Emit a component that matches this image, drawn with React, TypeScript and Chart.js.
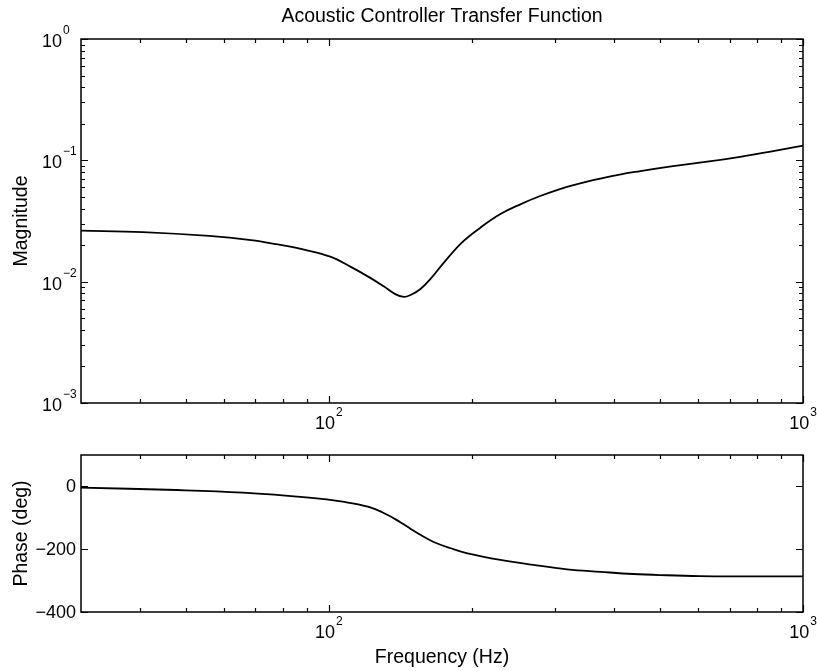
import { useEffect, useRef } from 'react';
import { Chart, registerables } from 'chart.js';

Chart.register(...registerables);

const FONT = "'Liberation Sans', Arial, Helvetica, sans-serif";

// Magnitude response |H(f)|
const magFreq = [30, 40.5, 55.9, 68.5, 77.3, 87.3, 101, 111, 122.5, 130.5, 138, 144, 149, 156, 165, 172, 190, 209, 230, 254, 279, 307, 328, 386, 454, 532, 628, 737, 865, 1000];
const magnitude = [0.0263, 0.0256, 0.0238, 0.022, 0.0204, 0.0186, 0.016, 0.0133, 0.0107, 0.00915, 0.0079, 0.00748, 0.0078, 0.0087, 0.0109, 0.0133, 0.0207, 0.028, 0.0361, 0.0436, 0.0508, 0.058, 0.0626, 0.0728, 0.0816, 0.0897, 0.0974, 0.107, 0.119, 0.132];

// Phase response in degrees
const phaseFreq = [30, 47.7, 65.8, 90.8, 106.9, 120.8, 133.1, 141.7, 148.8, 156.2, 166.3, 180.7, 196, 230, 270, 318, 374, 438, 517, 606, 711, 1000];
const phaseDeg = [-4, -11.5, -20, -36, -48.7, -64.6, -91, -115, -135.4, -155, -177, -197, -213, -234, -250, -264, -272, -279, -283, -285.5, -286.3, -286.3];

// Axis ticks
const freqMajor = [100, 1000];
const freqExp = ['2', '3'];
const freqMinor = [40, 50, 60, 70, 80, 90, 200, 300, 400, 500, 600, 700, 800, 900];
const magMajor = [0.001, 0.01, 0.1, 1];
const magExp = ['\u22123', '\u22122', '\u22121', '0'];
const magMinor = [
  0.002, 0.003, 0.004, 0.005, 0.006, 0.007, 0.008, 0.009,
  0.02, 0.03, 0.04, 0.05, 0.06, 0.07, 0.08, 0.09,
  0.2, 0.3, 0.4, 0.5, 0.6, 0.7, 0.8, 0.9,
];
const phaseMajor = [-400, -200, 0];
const phaseLabels = ['\u2212400', '\u2212200', '0'];

type FrameCfg = {
  yMajor: number[];
  yMinor: number[];
  yLabel: string;
  yTickText: string[];
  yPow: boolean;
  title?: string;
  xTitle?: string;
};

const MAJOR = 7;
const MINOR = 4;
const TICK_FONT = `18px ${FONT}`;
const EXP_FONT = `12px ${FONT}`;
const LABEL_FONT = `19.5px ${FONT}`;

function drawPow(ctx: CanvasRenderingContext2D, exp: string, cx: number, baseY: number) {
  ctx.font = TICK_FONT;
  const bw = ctx.measureText('10').width;
  ctx.font = EXP_FONT;
  const ew = ctx.measureText(exp).width;
  const start = cx - (bw + ew + 1) / 2;
  ctx.textAlign = 'left';
  ctx.textBaseline = 'alphabetic';
  ctx.font = TICK_FONT;
  ctx.fillText('10', start, baseY);
  ctx.font = EXP_FONT;
  ctx.fillText(exp, start + bw + 1, baseY - 13);
}

function framePlugin(cfg: FrameCfg) {
  return {
    id: 'axesFrame',
    afterDatasetsDraw(chart: any) {
      const ctx: CanvasRenderingContext2D = chart.ctx;
      const { left, right, top, bottom } = chart.chartArea;
      const xs = chart.scales.x;
      const ys = chart.scales.y;
      ctx.save();
      ctx.strokeStyle = '#000';
      ctx.lineWidth = 1.2;
      ctx.beginPath();
      const tickX = (v: number, len: number) => {
        const p = Math.round(xs.getPixelForValue(v)) + 0.5;
        ctx.moveTo(p, bottom);
        ctx.lineTo(p, bottom - len);
        ctx.moveTo(p, top);
        ctx.lineTo(p, top + len);
      };
      const tickY = (v: number, len: number) => {
        const p = Math.round(ys.getPixelForValue(v)) + 0.5;
        ctx.moveTo(left, p);
        ctx.lineTo(left + len, p);
        ctx.moveTo(right, p);
        ctx.lineTo(right - len, p);
      };
      freqMajor.forEach((v) => tickX(v, MAJOR));
      freqMinor.forEach((v) => tickX(v, MINOR));
      cfg.yMajor.forEach((v) => tickY(v, MAJOR));
      cfg.yMinor.forEach((v) => tickY(v, MINOR));
      ctx.stroke();
      ctx.lineWidth = 1.5;
      ctx.strokeRect(left, top, right - left, bottom - top);

      ctx.fillStyle = '#000';
      // x tick labels
      freqMajor.forEach((v, i) => {
        drawPow(ctx, freqExp[i], xs.getPixelForValue(v), bottom + 26);
      });
      // y tick labels
      cfg.yMajor.forEach((v, i) => {
        const p = ys.getPixelForValue(v);
        if (cfg.yPow) {
          ctx.font = TICK_FONT;
          ctx.textAlign = 'right';
          ctx.textBaseline = 'alphabetic';
          ctx.fillText('10', left - 19, p + 8);
          ctx.font = EXP_FONT;
          ctx.textAlign = 'left';
          ctx.fillText(cfg.yTickText[i], left - 18, p - 5);
        } else {
          ctx.font = TICK_FONT;
          ctx.textAlign = 'right';
          ctx.textBaseline = 'middle';
          ctx.fillText(cfg.yTickText[i], left - 5, p + 1);
        }
      });
      // y axis label
      ctx.save();
      ctx.translate(27, (top + bottom) / 2);
      ctx.rotate(-Math.PI / 2);
      ctx.font = LABEL_FONT;
      ctx.textAlign = 'center';
      ctx.textBaseline = 'alphabetic';
      ctx.fillText(cfg.yLabel, 0, 0);
      ctx.restore();
      // title
      if (cfg.title) {
        ctx.font = LABEL_FONT;
        ctx.textAlign = 'center';
        ctx.textBaseline = 'alphabetic';
        ctx.fillText(cfg.title, (left + right) / 2, top - 17);
      }
      // x axis label
      if (cfg.xTitle) {
        ctx.font = LABEL_FONT;
        ctx.textAlign = 'center';
        ctx.textBaseline = 'alphabetic';
        ctx.fillText(cfg.xTitle, (left + right) / 2, bottom + 51);
      }
      ctx.restore();
    },
  };
}

function lineDataset(xs: number[], ys: number[]) {
  return {
    data: xs.map((x, i) => ({ x, y: ys[i] })),
    borderColor: '#000',
    borderWidth: 1.8,
    pointRadius: 0,
    fill: false,
    tension: 0.4,
  };
}

function baseOptions(yScale: any, padding: any) {
  return {
    responsive: false,
    animation: false as const,
    events: [],
    layout: { padding },
    plugins: {
      legend: { display: false },
      title: { display: false },
      tooltip: { enabled: false },
    },
    scales: {
      x: { type: 'logarithmic' as const, min: 30, max: 1000, display: false },
      y: { ...yScale, display: false },
    },
  };
}

export default function App() {
  const magRef = useRef<HTMLCanvasElement>(null);
  const phaseRef = useRef<HTMLCanvasElement>(null);

  useEffect(() => {
    const magChart = new Chart(magRef.current!, {
      type: 'line',
      data: { datasets: [lineDataset(magFreq, magnitude)] },
      options: baseOptions(
        { type: 'logarithmic', min: 0.001, max: 1 },
        { left: 81, top: 39, right: 14, bottom: 42 }
      ) as any,
      plugins: [
        framePlugin({
          yMajor: magMajor,
          yMinor: magMinor,
          yLabel: 'Magnitude',
          yTickText: magExp,
          yPow: true,
          title: 'Acoustic Controller Transfer Function',
        }),
      ],
    });
    const phaseChart = new Chart(phaseRef.current!, {
      type: 'line',
      data: { datasets: [lineDataset(phaseFreq, phaseDeg)] },
      options: baseOptions(
        { type: 'linear', min: -400, max: 100 },
        { left: 81, top: 10, right: 14, bottom: 59 }
      ) as any,
      plugins: [
        framePlugin({
          yMajor: phaseMajor,
          yMinor: [],
          yLabel: 'Phase (deg)',
          yTickText: phaseLabels,
          yPow: false,
          xTitle: 'Frequency (Hz)',
        }),
      ],
    });
    return () => {
      magChart.destroy();
      phaseChart.destroy();
    };
  }, []);

  return (
    <div style={{ position: 'fixed', left: 0, top: 0, width: 817, height: 671, background: '#fff' }}>
      <canvas ref={magRef} width={817} height={445} style={{ position: 'absolute', left: 0, top: 0, display: 'block' }} />
      <canvas ref={phaseRef} width={817} height={226} style={{ position: 'absolute', left: 0, top: 445, display: 'block' }} />
    </div>
  );
}
